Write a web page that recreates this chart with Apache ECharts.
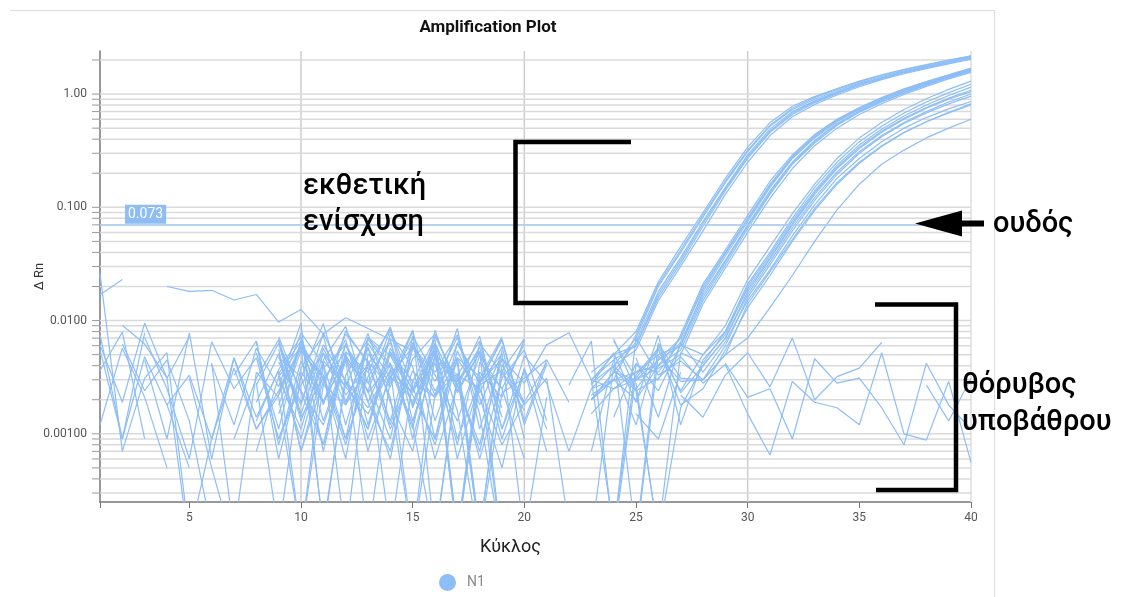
<!DOCTYPE html>
<html>
<head>
<meta charset="utf-8">
<title>Amplification Plot</title>
<script src="https://cdn.jsdelivr.net/npm/echarts@6/dist/echarts.min.js"></script>
<style>
  html, body { margin: 0; padding: 0; background: #fff; }
  #chart { width: 1140px; height: 597px; }
</style>
</head>
<body>
<div id="chart"></div>
<script>
const _ = null;

const cycles = [1,2,3,4,5,6,7,8,9,10,11,12,13,14,15,16,17,18,19,20,21,22,23,24,25,26,27,28,29,30,31,32,33,34,35,36,37,38,39,40];
const xTicks = [1,5,10,15,20,25,30,35,40];
const xGridValues = [10,20,30,40];
const gridValues = [0.0003,0.0004,0.0005,0.0006,0.0007,0.0008,0.0009,
  0.001,0.002,0.003,0.004,0.005,0.006,0.007,0.008,0.009,
  0.01,0.02,0.03,0.04,0.05,0.06,0.07,0.08,0.09,
  0.1,0.2,0.3,0.4,0.5,0.6,0.7,0.8,0.9,1,2];
const threshold = 0.073;
const yMin = 0.00025, yMax = 2.4;

// earliest wells (Ct ~ 28)
const curvesA = [
  [_,_,_,_,_,_,_,.0052,.0011,.0068,.0007,.0049,.0024,.0083,.0013,.0055,.00012,.0031,.0072,_,_,_, .003,.005,.008,.022,.045,.09,.18,.34,.56,.78,.95,1.12,1.3,1.48,1.65,1.82,2.0,2.18],
  [_,_,_,_,_,_,.0033,.0066,.0006,.0038,.0074,.0012,.0058,.0021,.00011,.0052,.0027,.0008,.0047,.0019,_,_, .0025,.004,.007,.02,.04,.082,.165,.31,.52,.73,.9,1.07,1.25,1.43,1.6,1.77,1.95,2.13],
  [.0055,.0009,.0078,_,_,_,_,_,.0034,.0009,.0045,.0089,.0019,.0007,.0061,.0029,.0071,.0015,.0001,_,_,_, .002,.0035,.0065,.018,.036,.075,.15,.29,.49,.7,.87,1.04,1.22,1.4,1.57,1.74,1.92,2.1],
  [_,_,_,_,_,.0041,.0012,.0057,.0026,.0095,.00013,.0033,.0068,.0038,.0011,.0082,.0023,.0052,.0009,.0037,.0007,_, .003,.0045,.006,.016,.032,.068,.14,.27,.46,.66,.84,1.01,1.19,1.37,1.54,1.71,1.88,2.06],
  [_,_,_,_,_,_,_,_,.0015,.0054,.0031,.0006,.0071,.0049,.0022,.0009,.0064,.0028,.0051,.00012,.0021,_, .0028,.004,.0055,.015,.03,.062,.13,.25,.43,.63,.81,.98,1.16,1.34,1.51,1.68,1.85,2.03],
  [_,.0091,.0062,.0031,.0001,_,_,_,.0048,.0019,.0061,.0029,.0011,.0076,.0039,.0006,.0027,.0058,.0014,_,_,_, .002,.003,.0075,.021,.042,.086,.17,.32,.53,.75,.93,1.1,1.28,1.46,1.63,1.8,1.98,2.16],
  [_,_,_,_,_,_,_,.0007,.0032,.0059,.0018,.0081,.0042,.0013,.0064,.0024,.0047,.00014,.0036,.0069,_,_, .0035,.005,.006,.017,.034,.072,.145,.28,.47,.68,.86,1.03,1.21,1.39,1.56,1.73,1.9,2.08]
];

// middle wells (Ct ~ 30)
const curvesB = [
  [_,_,_,_,_,_,_,_,.0072,.0023,.0008,.0053,.0035,.0088,.0017,.0061,.0006,.0029,.0067,.0012,.0041,_, .002,.003,.0035,.004,.007,.02,.04,.08,.16,.28,.43,.59,.75,.92,1.1,1.28,1.47,1.68],
  [.0036,.0079,.0009,_,_,_,_,.0027,.0063,.0013,.0043,.00012,.0051,.0028,.0071,.0009,.0054,.0021,.0005,.0038,.0011,_, .0015,.0025,.003,.0045,.006,.018,.037,.075,.15,.27,.41,.57,.73,.9,1.07,1.25,1.44,1.64],
  [_,_,_,_,.0006,.0065,.0025,.0047,.0009,.0031,.0094,.0019,.0058,.0012,.0046,.0076,.0027,.0007,.0055,_,_,_, .003,.00014,.004,.0035,.0065,.017,.034,.07,.14,.25,.39,.55,.71,.88,1.05,1.23,1.42,1.62],
  [_,_,_,_,_,_,_,_,.0022,.0062,.0031,.0008,.0043,.0026,.0081,.00012,.0033,.0066,.0011,.0049,.0028,.0007, .0025,.003,.002,.004,.0055,.015,.031,.065,.13,.24,.37,.53,.69,.85,1.02,1.2,1.39,1.58],
  [_,_,.0045,.0009,.0078,.0006,_,_,.0056,.0007,.0029,.0068,.0012,.0057,.0024,.0042,.0008,.0063,.0034,.0019,_,_, .002,.0035,.003,.003,.0075,.021,.042,.085,.17,.29,.44,.6,.76,.93,1.11,1.29,1.48,1.7],
  [_,_,_,_,_,_,_,.0013,.0037,.0072,.0019,.0048,.0009,.0032,.0059,.0022,.0085,.0011,.0046,.0028,.0061,.0078, .003,.0025,.0035,.005,.006,.016,.033,.068,.135,.245,.38,.54,.7,.86,1.03,1.21,1.4,1.6],
  [_,_,_,_,_,_,_,_,.0031,.0011,.0052,.0026,.0077,.0019,.0007,.0063,.0024,.0053,.0001,_,_,_, .00012,.004,.0025,.0045,.007,.019,.039,.078,.155,.275,.42,.58,.74,.91,1.08,1.26,1.45,1.66],
  [.0012,.0057,.0021,.0005,_,_,_,.0066,.0008,.0044,.0019,.0061,.0029,.0009,.0073,.0033,.0013,.0049,.0025,.0006,_,_, .0022,.003,.003,.0038,.005,.014,.029,.06,.12,.22,.35,.5,.66,.82,.99,1.17,1.36,1.55]
];

// latest wells (Ct ~ 32)
const curvesC = [
  [_,_,_,_,_,_,_,_,.0034,.0066,.0013,.0049,.0024,.0006,.0058,.0035,.0075,.0018,.0051,_,_,_,_,.0014,.0042,.0024,.0061, .005,.008,.021,.04,.08,.15,.25,.38,.52,.68,.85,1.03,1.22],
  [_,_,_,_,_,.0006,.0047,.0011,.0024,.0058,.0033,.0009,.0071,.0041,.0019,.0054,.00012,.0035,.0021,.0068,_,_,_,_,.0028,.00012,.0017, .004,.007,.018,.035,.07,.13,.22,.33,.46,.6,.75,.9,1.05],
  [.0061,.0019,.0095,.0031,.0072,_,_,_,.0043,.0018,.0078,.0029,.0011,.0051,.0025,.0063,.0016,.0001,_,_,_,_,_,.0052,.0019,.0074,.0012, .0045,.0075,.02,.038,.076,.14,.235,.355,.49,.64,.8,.97,1.15],
  [_,_,_,_,_,_,_,_,.0009,.0027,.0051,.0018,.0063,.0031,.0082,.0013,.0046,.0023,.0059,.0009,_,_,_,.00013,.0071,.0033,.0044, .003,.006,.016,.031,.062,.115,.195,.3,.42,.55,.68,.82,.96],
  [_,_,_,_,.0031,.0005,.0001,_,.0062,.0024,.0012,.0044,.0028,.0069,.0009,.0049,.0033,.0006,.0031,.0055,.0013,_,_,_,.0047,.0014,.0064, .0035,.0065,.015,.028,.056,.105,.18,.27,.38,.5,.62,.74,.86],
  [_,_,_,_,_,_,_,.0019,.0051,.0007,.0038,.0061,.0023,.0042,.0012,.0073,.0029,.0054,.0017,_,_,_,_,.0066,.0031,.0055,.0024, .005,.009,.023,.045,.088,.16,.27,.41,.56,.73,.91,1.1,1.3],
  [_,_,.0071,.0025,.0006,_,_,_,.0018,.0059,.0027,.0076,.0044,.0011,.0036,.0021,.0062,.0028,.0069,.0013,.0045,_,_,_,.00011,.0049,.0029, .003,.005,.014,.027,.052,.098,.165,.25,.35,.46,.57,.68,.8],
  [_,_,_,_,_,_,.0009,.0031,.0068,.0015,.0057,.0022,.0041,.0084,.0026,.0008,.0047,.0032,.0001,_,_,_,_,.0039,.0012,.0061,.0023, .004,.007,.017,.033,.066,.122,.205,.31,.43,.56,.7,.85,1.0],
  [_,_,_,_,_,_,_,_,.0047,.0032,.0008,.0063,.0019,.0053,.0029,.0069,.00013,.0043,.0025,.0062,_,.0027,.0066,.00012,.0033,.0057,.0018, .0025,.0055,.013,.025,.05,.094,.16,.245,.345,.455,.57,.69,.82],
  [_,_,_,_,_,_,_,_,.0023,.0078,.0041,.0009,.0032,.0064,.0018,.0047,.0027,.0073,.0011,.0036,_,_,_,.0069,.0024,.00013,.0052, .0042,.008,.019,.036,.072,.135,.225,.34,.47,.61,.76,.92,1.08],
  [.0075,.0009,.0048,.0018,.0005,_,_,_,.0066,.0014,.0031,.0052,.0007,.0036,.0023,.0058,.0009,.0029,.0045,_,_,_,.0027,.0052,.00012,.0063,.0031, .003,.005,.007,.013,.025,.05,.095,.16,.24,.32,.41,.5,.6]
];

// wells without amplification (background only)
const curvesNeg = [
  [.0169,.023,_,.020,.0181,.0185,.0152,.017,.0097,.0125,.0076,.0106,.0085,.0068,.0054,_,_,_,_,_,_,_,_,_,_,_,_,_,_,_,_,_,_,_,_,_,_,_,_,_],
  [.026,.0007,.0031,.0052,.00012,.0009,.0038,.0011,.0022,.0058,.00015,.0029,.0017,.0041,.0012,.00011,.0033,.0025,.0008,.0019,.0042,_,_,.0037,.0024,.0031,.0048,.0028,.0041,.0015,.00065,.0029,.0019,.0017,.0012,.0052,.001,.00088,.0029,.00056],
  [_,.0062,.0024,.0045,.0013,.00014,_,.0028,.00013,.0035,.0019,.0046,.00012,.0031,.0024,.0052,.00014,.0027,.0036,.0016,_,_,.0007,.0045,_,_,.0022,.0014,.0033,.0052,.0026,.007,.002,.0032,.0038,.0064,_,.0027,.0013,.0031],
  [_,_,_,.0018,.0033,.0009,.0047,.0014,.0036,.00012,.0027,.0018,.0039,.00013,.0029,.0021,.0043,.00012,.0023,.0031,.0045,.0019,_,_,.0015,.0009,.0035,_,.0042,.0021,.0025,.0009,.0046,.0028,.0031,.0017,.0008,.0042,.0018,.0011],
  [_,_,_,_,_,.0042,.00013,.0035,.0021,.00012,.0044,.0026,.0015,.0037,.00011,.0022,.0034,.00013,.0041,.0018,.0031,.00015,_,_,_,_,_,_,_,_,_,_,_,_,_,_,_,_,_,_]
];

const LINE = '#8dbef6';
const FONT = 'Roboto';
const chart = echarts.init(document.getElementById('chart'));

const wells = [...curvesA, ...curvesB, ...curvesC, ...curvesNeg];

const lineSeries = wells.map((vals, i) => {
  const s = {
    name: 'N1',
    type: 'line',
    data: cycles.map((c, k) => [c, vals[k]]),
    symbol: 'none',
    showSymbol: false,
    silent: true,
    z: 3,
    lineStyle: { color: LINE, width: 1.2 },
    itemStyle: { color: LINE },
  };
  if (i === 0) {
    s.markLine = {
      silent: true,
      symbol: 'none',
      lineStyle: { color: '#a9cdf6', width: 1.5, type: 'solid' },
      label: {
        position: 'insideStartTop',
        formatter: '0.073',
        color: '#fff',
        backgroundColor: '#8ebdf3',
        padding: [3, 3, 2, 3],
        fontSize: 14,
        fontFamily: FONT,
        distance: 1,
        offset: [24, 0],
      },
      data: [{ yAxis: threshold }],
    };
  }
  return s;
});

// light horizontal grid on the log axis, with the small ticks left of the axis
const hGridSeries = {
  type: 'custom',
  silent: true,
  clip: false,
  z: 1,
  data: gridValues.map((v) => [1, v]),
  encode: { x: 0, y: 1 },
  renderItem(params, api) {
    const v = api.value(1);
    const a = api.coord([1, v]);
    const b = api.coord([40, v]);
    return {
      type: 'group',
      children: [
        { type: 'line', shape: { x1: a[0], y1: a[1], x2: b[0], y2: b[1] }, style: { stroke: '#dadada', lineWidth: 1.5 } },
        { type: 'line', shape: { x1: a[0] - 8, y1: a[1], x2: a[0], y2: a[1] }, style: { stroke: '#9a9a9a', lineWidth: 1 } },
      ],
    };
  },
};

const vGridSeries = {
  type: 'custom',
  silent: true,
  clip: false,
  z: 1,
  data: xGridValues.map((x) => [x, yMax]),
  encode: { x: 0, y: 1 },
  renderItem(params, api) {
    const x = api.value(0);
    const a = api.coord([x, yMin]);
    const b = api.coord([x, yMax]);
    return {
      type: 'line',
      shape: { x1: a[0], y1: a[1], x2: b[0], y2: b[1] },
      style: { stroke: x === 40 ? '#dedede' : '#cccccc', lineWidth: 1.5 },
    };
  },
};

const bracket = (pts) => ({
  type: 'polyline',
  shape: { points: pts },
  style: { stroke: '#000', lineWidth: 4.5, fill: null },
  z: 10,
});
const label = (x, y, text) => ({
  type: 'text',
  x, y,
  style: { text, fill: '#000', font: '500 29px Roboto', textVerticalAlign: 'middle' },
  z: 10,
});

chart.setOption({
  animation: false,
  textStyle: { fontFamily: FONT },
  grid: { left: 100, right: 169, top: 51, bottom: 95 },
  legend: {
    data: ['N1'],
    left: 439,
    top: 574,
    padding: 0,
    icon: 'circle',
    itemWidth: 17,
    itemHeight: 17,
    itemGap: 10,
    textStyle: { color: '#888', fontSize: 14, fontFamily: FONT, padding: [0, 0, 0, 6] },
  },
  xAxis: {
    type: 'value',
    min: 1,
    max: 40,
    name: 'Κύκλος',
    nameLocation: 'middle',
    nameGap: 36,
    nameMoveOverlap: false,
    nameTextStyle: { color: '#222', fontSize: 18, fontFamily: FONT, padding: [0, 50, 0, 0] },
    axisLine: { lineStyle: { color: '#777', width: 1.5 } },
    axisTick: { show: true, length: 6, customValues: xTicks, lineStyle: { color: '#777' } },
    axisLabel: { customValues: xTicks.slice(1), color: '#555', fontSize: 12, margin: 10 },
    splitLine: { show: false },
  },
  yAxis: {
    type: 'log',
    logBase: 10,
    min: yMin,
    max: yMax,
    name: 'Δ Rn',
    nameLocation: 'middle',
    nameRotate: 90,
    nameGap: 54,
    nameMoveOverlap: false,
    nameTextStyle: { color: '#333', fontSize: 13, fontFamily: FONT },
    axisLine: { show: true, lineStyle: { color: '#777', width: 1.5 } },
    axisTick: { show: false },
    axisLabel: {
      color: '#555',
      fontSize: 12,
      margin: 13,
      showMinLabel: false,
      showMaxLabel: false,
      formatter: (v) => {
        const l = Math.log10(v);
        return Math.abs(l - Math.round(l)) < 1e-6 ? Math.pow(10, Math.round(l)).toPrecision(3) : '';
      },
    },
    splitLine: { show: false },
  },
  graphic: [
    { type: 'line', shape: { x1: 10, y1: 10.5, x2: 994.5, y2: 10.5 }, style: { stroke: '#dddddd', lineWidth: 1 } },
    { type: 'line', shape: { x1: 994.5, y1: 10, x2: 994.5, y2: 597 }, style: { stroke: '#dddddd', lineWidth: 1 } },
    { type: 'text', x: 488, y: 28, style: { text: 'Amplification Plot', fill: '#111', font: 'bold 17px Roboto', textAlign: 'center', textVerticalAlign: 'middle' } },
    bracket([[631, 142], [515.5, 142], [515.5, 303], [628, 303]]),
    bracket([[875, 304.5], [956, 304.5], [956, 490], [876, 490]]),
    label(303, 187, 'εκθετική'),
    label(303, 223, 'ενίσχυση'),
    label(962, 386, 'θόρυβος'),
    label(962, 423, 'υποβάθρου'),
    label(993, 225, 'ουδός'),
    { type: 'polygon', shape: { points: [[915, 223.5], [962, 210.5], [962, 236.5]] }, style: { fill: '#000' }, z: 10 },
    { type: 'line', shape: { x1: 960, y1: 223.5, x2: 984, y2: 223.5 }, style: { stroke: '#000', lineWidth: 6 }, z: 10 },
  ],
  series: [vGridSeries, hGridSeries, ...lineSeries],
});
</script>
</body>
</html>
